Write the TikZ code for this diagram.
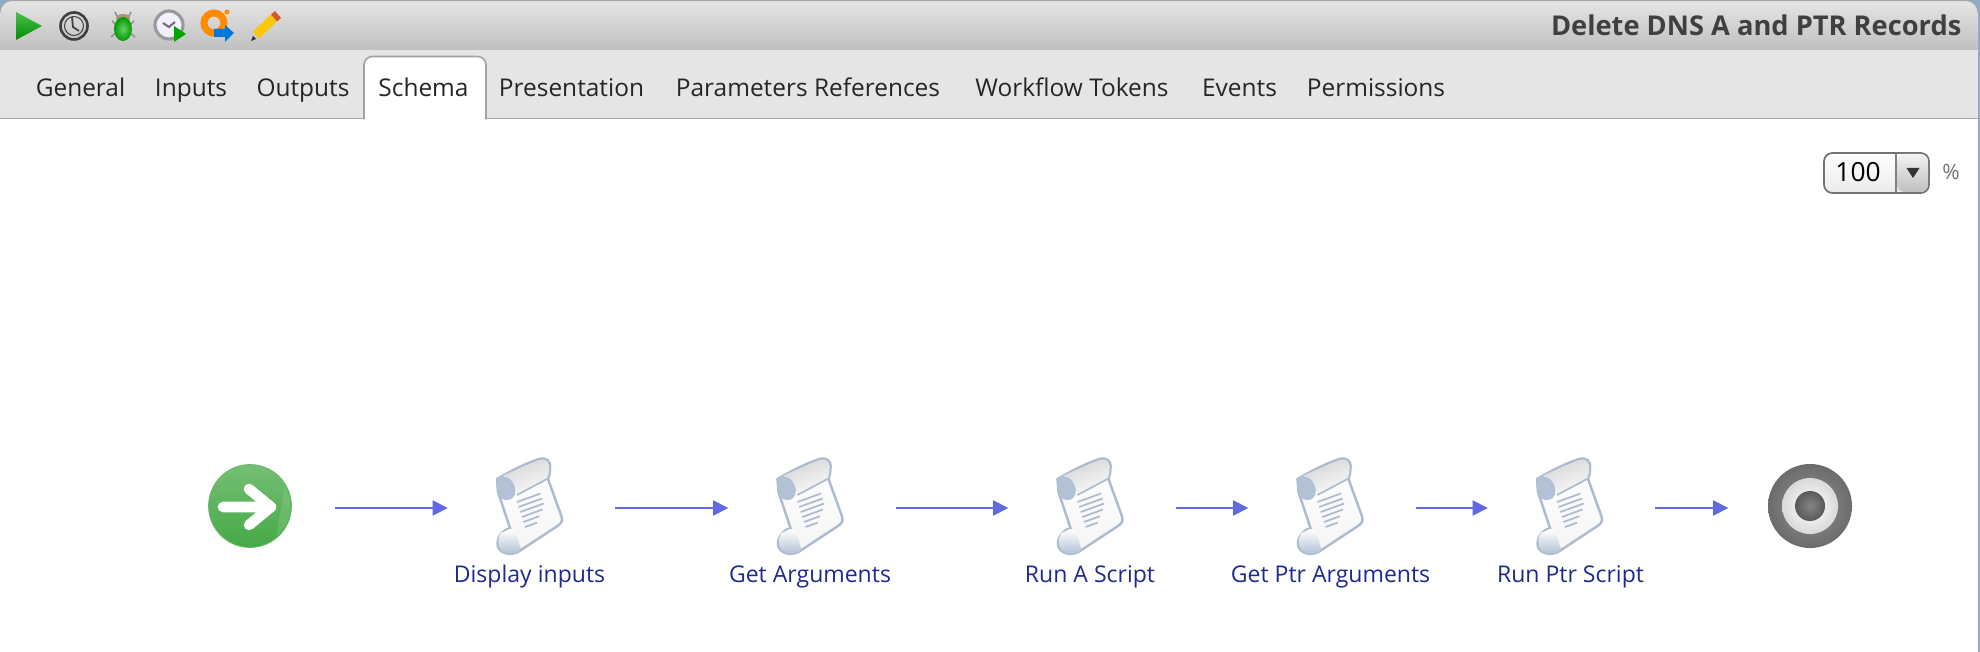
\documentclass[tikz,border=0pt]{standalone}
\usepackage{fontspec}
\setmainfont{Open Sans}
\usetikzlibrary{arrows.meta}

\definecolor{barline}{HTML}{A3A3A3}
\definecolor{flowblue}{HTML}{5F69E4}
\definecolor{labelblue}{HTML}{1F2A8E}
\definecolor{paperedge}{HTML}{AEBBCE}
\definecolor{rollblue}{HTML}{B3C1D4}
\definecolor{windowblue}{HTML}{8FAAC8}
\definecolor{startgreen}{HTML}{46A946}

\tikzset{
  tablabel/.style={font=\fontsize{6.95}{9}\selectfont, text=black!85, inner sep=0pt, anchor=mid},
  steplabel/.style={font=\fontsize{6.55}{8}\selectfont, text=labelblue, inner sep=0pt, anchor=base},
  flowstep/.style={minimum width=1.66cm, minimum height=0.6cm, inner sep=0pt},
  flow/.style={-{Triangle[length=4.3pt,width=4.3pt]}, flowblue, line width=0.5pt},
  scrolldoc/.pic={
    % paper
    \draw[paperedge, line width=0.7pt, top color=white, bottom color=black!4]
      (-32,-27) .. controls (-20,-34) and (-5,-42) .. (10,-47)
      .. controls (17,-49) and (22,-45) .. (21,-38)
      .. controls (21,-33) and (20,-30) .. (19,-27)
      -- (32,9) .. controls (34,14) and (33,16) .. (30,19)
      -- (-8,44) .. controls (-16,50) and (-27,49) .. (-31,41)
      .. controls (-33,33) and (-28,25) .. (-19,22)
      -- (-31,-14) -- cycle;
    % top roll
    \shade[top color=black!17, bottom color=black!2, shading angle=20]
      (-17,-22) .. controls (-19,-28) and (-24,-31) .. (-27,-30)
      -- (10,-46) .. controls (16,-48) and (20,-44) .. (20,-38)
      .. controls (20,-33) and (19,-29) .. (17,-27) -- (-12,-12) -- cycle;
    \draw[paperedge, line width=0.5pt] (-12,-11) -- (18,-27);
    \fill[rollblue] (-32,-26) .. controls (-34,-14) and (-29,-5) .. (-21,-6)
      .. controls (-14,-7) and (-12,-14) .. (-15,-21)
      .. controls (-18,-29) and (-28,-33) .. (-32,-26) -- cycle;
    % bottom roll
    \shade[top color=white, bottom color=rollblue]
      (-28,27) .. controls (-33,33) and (-31,47) .. (-20,48)
      .. controls (-15,48) and (-11,46) .. (-8,43)
      .. controls (-11,34) and (-13,24) .. (-19,23) -- cycle;
    % text lines
    \foreach \k/\len in {0/25,1/25,2/25,3/22,4/17,5/13}
      \draw[paperedge, line width=0.5pt] (-12+\k*1.6,-4+\k*5) -- ++(\len*0.94,-\len*0.34);
  }
}

\begin{document}
\begin{tikzpicture}[x=0.01cm,y=-0.01cm]
  \useasboundingbox (0,0) rectangle (1980,652);

  % window
  \fill[white] (0,0) rectangle (1980,652);
  \fill[windowblue] (0,0) rectangle (1980,16);
  \fill[windowblue] (1978,0) rectangle (1980,652);
  \shade[top color=black!10, bottom color=black!25]
    (0,50) [rounded corners=3.4pt] -- (0,0.5) -- (1978,0.5) [sharp corners] -- (1978,50) -- cycle;
  \draw[black!35, line width=0.3pt, rounded corners=3.4pt] (0,12) -- (0,0.5) -- (1978,0.5) -- (1978,12);
  \fill[black!10] (0,50) rectangle (1978,118);
  \draw[barline, line width=0.55pt] (0,118.5) -- (1978,118.5);

  % toolbar icons
  \shade[top color=green!65!black!70!white, bottom color=green!55!black] (16,12) -- (42,26) -- (16,40) -- cycle;
  \draw[black!75, line width=0.75pt] (74,26) circle (13.5);
  \draw[black!75, line width=0.3pt] (74,26) circle (9.5);
  \draw[black!75, line width=0.5pt] (72,17) -- (73,27) -- (79,31);
  \draw[black!45, line width=0.4pt] (112,21) -- (116,25) (134,21) -- (130,25) (111,37) -- (116,33) (135,37) -- (130,33) (115,12) -- (118,18) (131,12) -- (128,18);
  \fill[brown!60!black!60] (123,18) ellipse (7 and 4);
  \shade[inner color=green!70!black!60!white, outer color=green!60!black] (123,29) ellipse (9 and 12);
  \draw[black!40, line width=0.9pt, fill=blue!6!white] (169,25) circle (14);
  \draw[black!55, line width=0.6pt] (163,23) -- (169,27) -- (175,22);
  \fill[green!65!black] (174,26) -- (186,34) -- (174,42) -- cycle;
  \draw[orange!90!yellow, line width=2pt] (214,23) circle (10);
  \fill[orange!90!yellow] (227,12) circle (2.5);
  \fill[blue!45!cyan!85!black] (214,29) -- (225,29) -- (225,25) -- (234,33) -- (225,42) -- (225,37) -- (214,37) -- cycle;
  \draw[yellow!60!orange, line width=2.6pt] (256,35) -- (274,18);
  \draw[brown!70!red, line width=2.6pt] (274,18) -- (278,14.5);
  \fill[black!80] (251,41) -- (253,36) -- (256,39) -- cycle;

  % title
  \node[font=\bfseries\fontsize{7.75}{9}\selectfont, text=black!75, inner sep=0pt, anchor=base east] (title) at (1962,36) {Delete DNS A and PTR Records};

  % tabs
  \draw[barline, line width=0.45pt, fill=white, rounded corners=2.4pt] (364,119.5) -- (364,56.5) -- (486,56.5) -- (486,119.5);
  \fill[white] (364.7,117) rectangle (485.3,121);
  \node[tablabel] (general) at (80.5,87.5) {General};
  \node[tablabel] (inputs) at (191,87.5) {Inputs};
  \node[tablabel] (outputs) at (303,87.5) {Outputs};
  \node[tablabel] (schema) at (423.5,87.5) {Schema};
  \node[tablabel] (presentation) at (571.5,87.5) {Presentation};
  \node[tablabel] (parameters) at (808,87.5) {Parameters References};
  \node[tablabel] (tokens) at (1072,87.5) {Workflow Tokens};
  \node[tablabel] (events) at (1239.5,87.5) {Events};
  \node[tablabel] (permissions) at (1376,87.5) {Permissions};

  % zoom box
  \draw[black!55, line width=0.5pt, top color=white, bottom color=black!8, rounded corners=2.4pt] (1824,153) rectangle (1929,193);
  \shade[top color=black!5, bottom color=black!25, rounded corners=2.2pt] (1897,154) rectangle (1928,192);
  \draw[black!50, line width=0.35pt] (1896,153.5) -- (1896,192.5);
  \fill[black!80] (1906.5,168) -- (1919.5,168) -- (1913,178) -- cycle;
  \node[font=\fontsize{7.5}{9}\selectfont, text=black, inner sep=0pt, anchor=base] (zoomvalue) at (1858,182) {100};
  \node[font=\fontsize{6}{8}\selectfont, text=black!55, inner sep=0pt, anchor=base] (percent) at (1951,180) {\%};

  % start and end marks
  \shade[top color=startgreen!75!white, bottom color=startgreen, draw=startgreen!80!white, line width=0.2pt] (250,506) circle (41.5);
  \fill[green!55!black!45!white, opacity=0.35] (250,506) ++(35,-20) arc[start angle=-30,end angle=50,radius=40] -- cycle;
  \draw[white, line width=3pt, line cap=round, line join=round] (223,507) -- (270,507) (249,489) -- (271,507) -- (249,525);
  \shade[inner color=black!42, outer color=black!58] (1810,506) circle (42);
  \shade[inner color=white, outer color=black!15] (1810,506) circle (28);
  \shade[inner color=black!48, outer color=black!65] (1810,506) circle (15);

  % scrolls
  \pic at (529,506) {scrolldoc};
  \pic at (809.5,506) {scrolldoc};
  \pic at (1089.5,506) {scrolldoc};
  \pic at (1329.5,506) {scrolldoc};
  \pic at (1569,506) {scrolldoc};

  \node[steplabel] (displaylabel) at (529.5,582) {Display inputs};
  \node[steplabel] (getlabel) at (810,582) {Get Arguments};
  \node[steplabel] (runalabel) at (1090,582) {Run A Script};
  \node[steplabel] (getptrlabel) at (1330.5,582) {Get Ptr Arguments};
  \node[steplabel] (runptrlabel) at (1570.5,582) {Run Ptr Script};

  % flow
  \node[minimum width=1.68cm, minimum height=0.6cm, inner sep=0pt] (start) at (250,508) {};
  \node[flowstep] (display) at (531.5,508) {};
  \node[flowstep] (arguments) at (812,508) {};
  \node[flowstep] (runa) at (1092,508) {};
  \node[flowstep] (getptr) at (1332,508) {};
  \node[flowstep] (runptr) at (1571.5,508) {};
  \node[minimum width=1.62cm, minimum height=0.6cm, inner sep=0pt] (end) at (1810,508) {};

  \draw[flow] (start) -- (display);
  \draw[flow] (display) -- (arguments);
  \draw[flow] (arguments) -- (runa);
  \draw[flow] (runa) -- (getptr);
  \draw[flow] (getptr) -- (runptr);
  \draw[flow] (runptr) -- (end);
\end{tikzpicture}
\end{document}
